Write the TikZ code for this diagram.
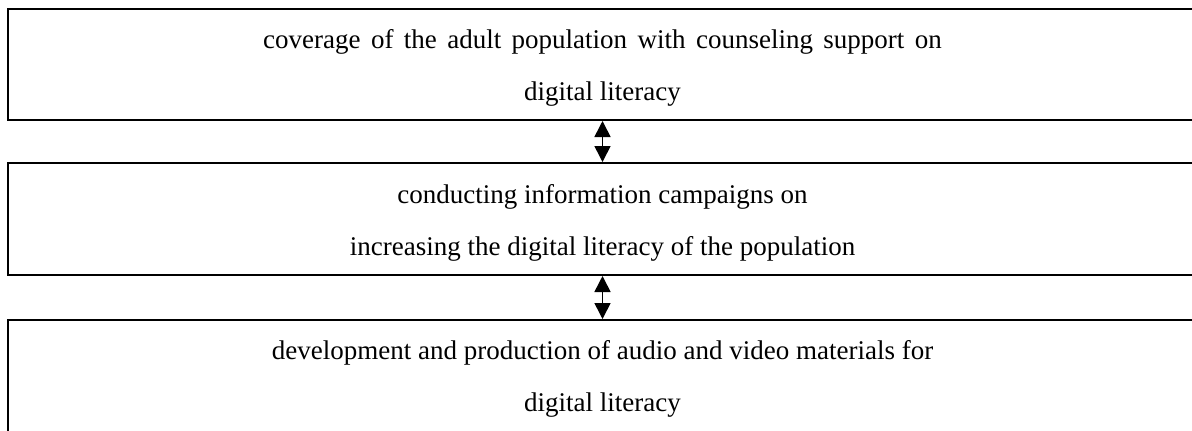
\documentclass[tikz,border=0pt]{standalone}
\usepackage{fontspec}
\setmainfont{Liberation Serif}
\usetikzlibrary{arrows.meta,positioning}
\begin{document}
\begin{tikzpicture}[x=0.5pt,y=-0.5pt,
    box/.style={draw,line width=1pt,minimum width=594.5pt,minimum height=55.5pt,
      inner sep=0pt,anchor=north west},
    lbl/.style={align=center,font=\fontsize{13.5}{26}\selectfont,inner sep=0pt,anchor=base},
    link/.style={{Triangle[width=8pt,length=8pt]}-{Triangle[width=8pt,length=8pt]},
      line width=0.8pt}]
  \clip (0,0) rectangle (1192,430);
  % the three boxes
  \node[box] (cover) at (7,8) {};
  \node[box,minimum height=56pt] (campaign) at (7,162) {};
  \node[box,minimum height=58pt] (media) at (7,319) {};
  % their texts
  \node[lbl] (coverText) at ([yshift=-46pt]cover.north)
    {{\spaceskip=5.2pt coverage of the adult population with counseling support on}\\digital literacy};
  \node[lbl] (campaignText) at ([yshift=-46.5pt]campaign.north)
    {conducting information campaigns on\\increasing the digital literacy of the population};
  \node[lbl] (mediaText) at ([yshift=-46pt]media.north)
    {development and production of audio and video materials for\\digital literacy};
  % links
  \draw[link] (cover) -- (campaign);
  \draw[link] (campaign) -- (media);
\end{tikzpicture}
\end{document}
